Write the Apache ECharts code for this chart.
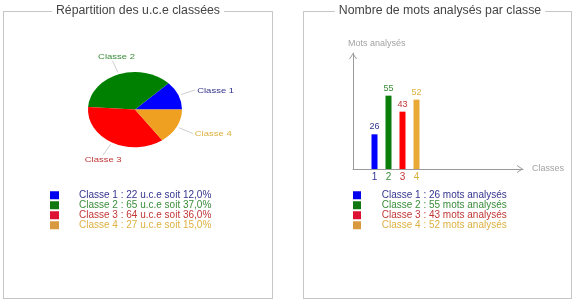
<!DOCTYPE html>
<html><head><meta charset="utf-8">
<script src="https://cdn.jsdelivr.net/npm/echarts@6/dist/echarts.min.js"></script>
<style>
html,body{margin:0;padding:0;background:#fff;}
#wrap{position:relative;width:575px;height:303px;overflow:hidden;background:#fff;}
.panel{position:absolute;box-sizing:border-box;border:1px solid #c6c6c6;}
#main{position:absolute;left:0;top:0;width:575px;height:303px;}
#pie{position:absolute;left:0;top:0;width:280px;height:235px;transform:scaleY(0.8);transform-origin:0 0;}
</style></head><body>
<div id="wrap">
<div class="panel" style="left:3px;top:11px;width:270px;height:288px"></div>
<div class="panel" style="left:303px;top:11px;width:269px;height:288px"></div>
<div id="main"></div>
<div id="pie"></div>
</div>
<script>
// ---- data ----
const categories = ['Classe 1', 'Classe 2', 'Classe 3', 'Classe 4'];
const uceCounts = [22, 65, 64, 27];
const ucePercents = [12.0, 37.0, 36.0, 15.0];
const motsCounts = [26, 55, 43, 52];
const xTickLabels = ['1', '2', '3', '4'];
const pieTitle = 'Répartition des u.c.e classées';
const barTitle = 'Nombre de mots analysés par classe';
const yAxisName = 'Mots analysés';
const xAxisName = 'Classes';

// ---- styles ----
const F = 'Liberation Sans';
const pieColors = ['#0000ff', '#008000', '#ff0000', '#f0a020'];
const barColors = ['#0000ff', '#0a7d0a', '#ff0000', '#e8a935'];
const squareColors = ['#0000ee', '#117711', '#dd1133', '#d9993f'];
const textColors = ['#34348f', '#398c39', '#c23636', '#dcb140'];
const axisGray = '#9a9a9a';
const chevron = 'path://M0,6 L4,0 L8,6 L7,6 L4,1.5 L1,6 Z';

function fmtPct(v) { return v.toFixed(1).replace('.', ','); }

// ---- main chart (bar panel, legends, titles) ----
const main = echarts.init(document.getElementById('main'), null, {renderer: 'canvas'});
const legendBase = {
  orient: 'vertical', itemWidth: 9, itemHeight: 8, itemGap: 0, padding: 0,
  icon: 'rect', selectedMode: false, top: 190.25
};
main.setOption({
  animation: false,
  grid: [
    {left: 353, right: 52, top: 53, bottom: 134},
    {left: 367.5, width: 56, top: 53, bottom: 134}
  ],
  xAxis: [
    {gridIndex: 0, type: 'value', min: 0, max: 1,
     axisLine: {show: true, symbol: ['none', chevron], symbolSize: [8, 6], symbolOffset: [0, -3], lineStyle: {color: axisGray, width: 1}},
     axisTick: {show: false}, axisLabel: {show: false}, splitLine: {show: false},
     name: xAxisName, nameLocation: 'end', nameGap: 9,
     nameTextStyle: {color: '#a3a3a3', fontSize: 9, fontFamily: F}},
    {gridIndex: 1, type: 'category',
     data: xTickLabels.map((t, i) => ({value: t, textStyle: {color: textColors[i]}})),
     axisLine: {show: false}, axisTick: {show: false},
     axisLabel: {margin: 3, fontSize: 10, fontFamily: F}}
  ],
  yAxis: [
    {gridIndex: 0, type: 'value', min: 0, max: 87,
     axisLine: {show: true, symbol: ['none', chevron], symbolSize: [8, 6], symbolOffset: [0, -3], lineStyle: {color: axisGray, width: 1}},
     axisTick: {show: false}, axisLabel: {show: false}, splitLine: {show: false},
     name: yAxisName, nameLocation: 'end', nameGap: 5,
     nameTextStyle: {color: '#a3a3a3', fontSize: 9, fontFamily: F, align: 'left', padding: [0, 0, 0, -5]}},
    {gridIndex: 1, type: 'value', min: 0, max: 87, show: false}
  ],
  legend: [
    Object.assign({}, legendBase, {
      left: 50,
      data: categories.map((c, i) => ({name: c, itemStyle: {color: squareColors[i]}, textStyle: {color: textColors[i]}})),
      formatter: name => {
        const i = categories.indexOf(name);
        return name + ' : ' + uceCounts[i] + ' u.c.e soit ' + fmtPct(ucePercents[i]) + '%';
      },
      textStyle: {fontSize: 10, fontFamily: F, lineHeight: 9.5, padding: [0, 0, 0, 15]}
    }),
    Object.assign({}, legendBase, {
      left: 353, itemWidth: 8,
      data: categories.map((c, i) => ({name: c, itemStyle: {color: squareColors[i]}, textStyle: {color: textColors[i]}})),
      formatter: name => {
        const i = categories.indexOf(name);
        return name + ' : ' + motsCounts[i] + ' mots analysés';
      },
      textStyle: {fontSize: 10, fontFamily: F, lineHeight: 9.5, padding: [0, 0, 0, 15.7]}
    })
  ],
  graphic: [
    {type: 'text', x: 138, y: 11, z: 100,
     style: {text: pieTitle, align: 'center', verticalAlign: 'middle', fill: '#444', fontSize: 12.3, fontFamily: F, backgroundColor: '#fff', padding: [1, 4]}},
    {type: 'text', x: 440, y: 11, z: 100,
     style: {text: barTitle, align: 'center', verticalAlign: 'middle', fill: '#444', fontSize: 12.3, fontFamily: F, backgroundColor: '#fff', padding: [1, 4]}}
  ],
  series: categories.map((c, i) => ({
    name: c, type: 'bar', xAxisIndex: 1, yAxisIndex: 1, barWidth: 6, barGap: '-100%',
    data: motsCounts.map((v, j) => (j === i ? v : '-')),
    itemStyle: {color: barColors[i]},
    label: {show: true, position: 'top', distance: 3, color: textColors[i], fontSize: 9, fontFamily: F},
    emphasis: {disabled: true}
  }))
});

// ---- pie chart (drawn in a vertically squeezed layer to get the flat oval look) ----
const pie = echarts.init(document.getElementById('pie'), null, {renderer: 'svg'});
pie.setOption({
  animation: false,
  textStyle: {fontFamily: F},
  series: [{
    type: 'pie', center: [135, 137], radius: 47, startAngle: 0, clockwise: false,
    avoidLabelOverlap: false,
    data: categories.map((c, i) => ({name: c, value: uceCounts[i], itemStyle: {color: pieColors[i]},
      label: {color: textColors[i], fontFamily: F, fontSize: 9.5}})),
    label: {show: true, position: 'outside', fontSize: 9.5, fontFamily: F},
    labelLine: {show: true, length: 18, length2: 0, smooth: false, lineStyle: {color: '#c8c8c8', width: 1}},
    labelLayout: function (p) {
      const pts = p.labelLinePoints;
      if (!pts || pts.length < 2) return {};
      const s0 = pts[0], e = pts[1];
      let dx = e[0] - s0[0], dy = e[1] - s0[1];
      const len = Math.sqrt(dx * dx + dy * dy) || 1;
      dx /= len; dy /= len;
      const s = [s0[0] + dx * 2.5, s0[1] + dy * 2.5];
      const h = p.labelRect.height;
      if (Math.abs(dx) < 0.6) {
        return {x: e[0] + (dy < 0 ? 4 : 0), y: e[1] + (dy < 0 ? -1 : 1) * (h / 2 + 1), align: 'center', verticalAlign: 'middle', labelLinePoints: [s, e]};
      }
      return {x: e[0] + (dx < 0 ? -2 : 2), y: e[1], align: dx < 0 ? 'right' : 'left', verticalAlign: 'middle', labelLinePoints: [s, e]};
    },
    itemStyle: {borderWidth: 0},
    emphasis: {disabled: true}
  }]
});
</script>
</body></html>
